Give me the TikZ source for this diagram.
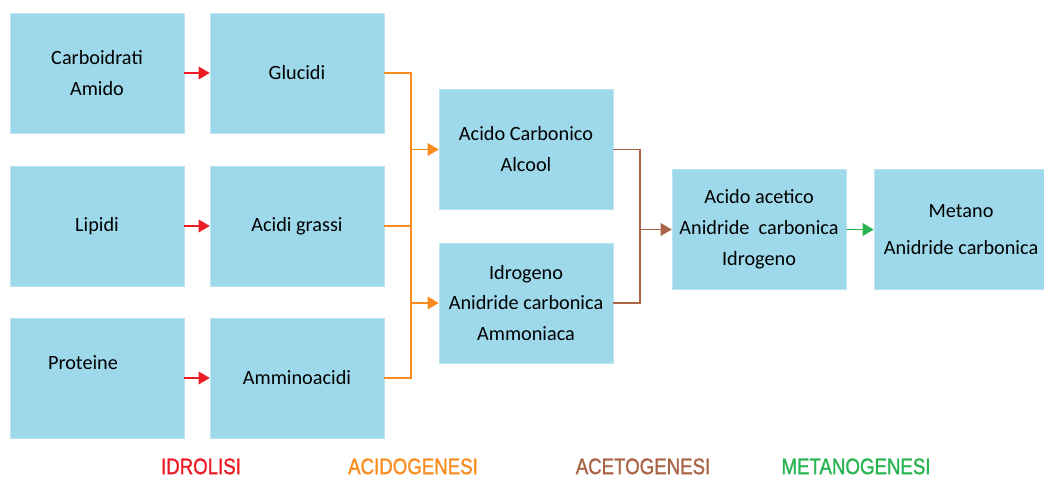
\documentclass[tikz,border=0pt]{standalone}
\usepackage{fontspec}
\setmainfont{Carlito}
\newfontfamily\fasefont[FakeStretch=0.83,FakeBold=1.2]{Liberation Sans}
\usetikzlibrary{arrows.meta}
\definecolor{scatola}{RGB}{157,217,234}
\definecolor{rosso}{RGB}{237,28,36}
\definecolor{arancio}{RGB}{250,140,30}
\definecolor{marrone}{RGB}{170,100,70}
\definecolor{verde}{RGB}{40,180,80}
\begin{document}
\begin{tikzpicture}[>={Triangle[length=2.8mm,width=3.2mm]},
    box/.style={fill=scatola,draw=scatola!70!white,minimum width=4.35cm,minimum height=3cm,
      align=center,font=\fontsize{14.4}{22}\selectfont},
    fase/.style={font=\fasefont\fontsize{16}{18}\selectfont},
    idr/.style={rosso,line width=1.1pt},
    acd/.style={arancio,line width=1.1pt},
    act/.style={marrone,line width=1.1pt},
    met/.style={verde,line width=1.1pt}]
    \useasboundingbox (0,0) rectangle (26.1,11.95);
    \begin{scope}
    \clip (0,0) rectangle (26.1,11.95);
    % prima colonna
    \node[box] (carb) at (2.425,10.125) {Carboidrati\\Amido};
    \node[box] (lip) at (2.425,6.3) {Lipidi};
    \node[box] (prot) at (2.425,2.5) {Proteine\hspace*{0.7cm}\\~};
    % idrolisi
    \node[box] (gluc) at (7.425,10.125) {Glucidi};
    \node[box] (acgr) at (7.425,6.3) {Acidi grassi};
    \node[box] (ammi) at (7.425,2.5) {Amminoacidi};
    % acidogenesi
    \node[box] (accarb) at (13.15,8.2125) {Acido Carbonico\\Alcool};
    \node[box] (idro) at (13.15,4.375) {Idrogeno\\Anidride carbonica\\Ammoniaca};
    % acetogenesi, metanogenesi
    \node[box] (acet) at (18.975,6.2125) {Acido acetico\\Anidride\ \ carbonica\\Idrogeno};
    \node[box,font=\fontsize{14.4}{26}\selectfont] (metano) at (24.025,6.2125) {Metano\\Anidride carbonica};
    \end{scope}
    \draw[idr,->](carb)--(gluc);
    \draw[idr,->](lip)--(acgr);
    \draw[idr,->](prot)--(ammi);
    \coordinate (ja) at (10.275,0);
    \draw[acd](gluc.east)-|(ja|-ammi.east)--(ammi.east);
    \draw[acd](acgr.east)--(ja|-acgr.east);
    \draw[acd,->](ja|-accarb.west)--(accarb.west);
    \draw[acd,->](ja|-idro.west)--(idro.west);
    \coordinate (jb) at (16,0);
    \draw[act](accarb.east)-|(jb|-idro.east)--(idro.east);
    \draw[act,->](jb|-acet.west)--(acet.west);
    \draw[met,->](acet)--(metano);
    % fasi
    \node[fase,text=rosso] (fidr) at (5.025,0.29) {IDROLISI};
    \node[fase,text=arancio] (facd) at (10.325,0.29) {ACIDOGENESI};
    \node[fase,text=marrone] (fact) at (16.075,0.29) {ACETOGENESI};
    \node[fase,text=verde] (fmet) at (21.4,0.29) {METANOGENESI};
\end{tikzpicture}
\end{document}
